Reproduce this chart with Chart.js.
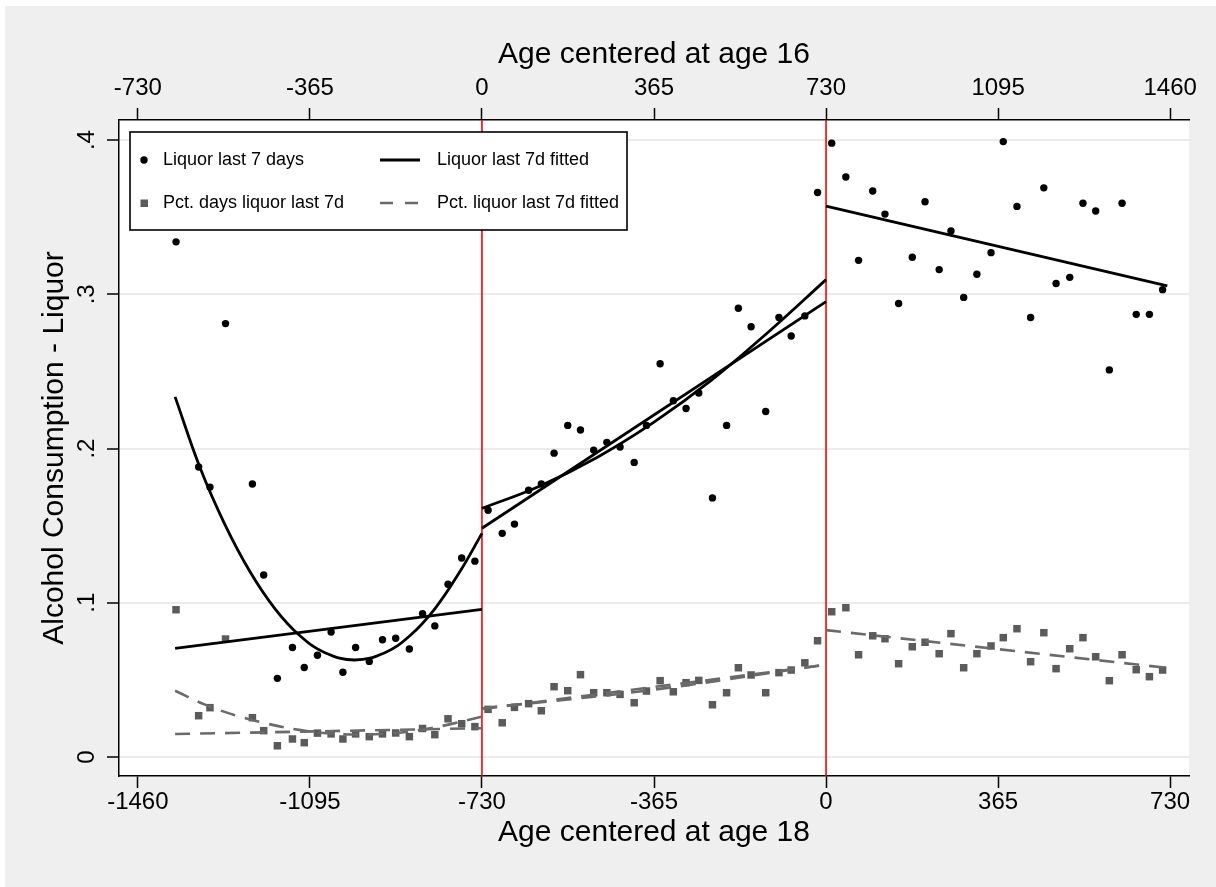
<!DOCTYPE html>
<html lang="en">
<head>
<meta charset="UTF-8">
<title>Alcohol Consumption - Liquor</title>
<script src="https://cdn.jsdelivr.net/npm/chart.js"></script>
<style>
  html, body { margin: 0; padding: 0; background: #fff; }
  #wrap { position: relative; width: 1216px; height: 887px; }
</style>
</head>
<body>
<div id="wrap"><canvas id="chart" width="1216" height="887"></canvas></div>
<script>
// age bins, days relative to 18th birthday
const ageDays = [
  -1379, -1331, -1307, -1274, -1217, -1193, -1164, -1132, -1107, -1079, -1050,
  -1025, -998, -969, -941, -913, -884, -856, -830, -802, -773, -745,
  -717, -687, -661, -631, -604, -577, -548, -521, -493, -465, -437, -407, -381,
  -352, -324, -297, -270, -241, -211, -186, -159, -128, -100, -74, -45, -18,
  12, 42, 69, 99, 125, 154, 183, 210, 240, 265, 292, 320, 350, 376, 405,
  434, 462, 488, 517, 545, 572, 601, 628, 658, 686, 714
];
// liquor last 7 days (black dots)
const liquor7d = [
  0.334, 0.188, 0.175, 0.281, 0.177, 0.118, 0.051, 0.071, 0.058, 0.066, 0.081,
  0.055, 0.071, 0.062, 0.076, 0.077, 0.070, 0.093, 0.085, 0.112, 0.129, 0.127,
  0.160, 0.145, 0.151, 0.173, 0.177, 0.197, 0.215, 0.212, 0.199, 0.204, 0.201, 0.191, 0.215,
  0.255, 0.231, 0.226, 0.236, 0.168, 0.215, 0.291, 0.279, 0.224, 0.285, 0.273, 0.286, 0.366,
  0.398, 0.376, 0.322, 0.367, 0.352, 0.294, 0.324, 0.360, 0.316, 0.341, 0.298, 0.313, 0.327,
  0.399, 0.357, 0.285, 0.369, 0.307, 0.311, 0.359, 0.354, 0.251, 0.359, 0.287, 0.287, 0.303
];
// pct. days liquor last 7d (grey squares)
const pctDays7d = [
  0.0955, 0.0268, 0.0320, 0.0765, 0.0255, 0.0171, 0.0073, 0.0117, 0.0093, 0.0155, 0.0150,
  0.0117, 0.0150, 0.0132, 0.0150, 0.0156, 0.0132, 0.0185, 0.0145, 0.0248, 0.0216, 0.0197,
  0.0309, 0.0222, 0.0322, 0.0346, 0.0300, 0.0456, 0.0430, 0.0534, 0.0417, 0.0417, 0.0406, 0.0352, 0.0428,
  0.0495, 0.0423, 0.0482, 0.0497, 0.0339, 0.0417, 0.0579, 0.0532, 0.0417, 0.0547, 0.0564, 0.0611, 0.0754,
  0.0942, 0.0968, 0.0663, 0.0786, 0.0767, 0.0605, 0.0715, 0.0744, 0.0670, 0.0800, 0.0579, 0.0670, 0.0720,
  0.0774, 0.0832, 0.0618, 0.0806, 0.0573, 0.0702, 0.0774, 0.0650, 0.0495, 0.0663, 0.0566, 0.0521, 0.0564
];

// fitted lines
const linLeftX = [-1381, -730],  linLeftY = [0.0705, 0.0957];
const quadLeftX = [-1381, -1328, -1275, -1222, -1169, -1116, -1063, -1000, -936, -883, -830, -777, -730];
const quadLeftY = [0.2335, 0.1875, 0.1505, 0.1201, 0.0961, 0.0786, 0.0676, 0.0629, 0.0676, 0.0786, 0.0961, 0.1201, 0.1450];
const linMidX = [-730, 0],       linMidY = [0.1483, 0.2952];
const quadMidX = [-730, -608, -486, -365, -243, -121, 0];
const quadMidY = [0.1612, 0.1756, 0.1942, 0.2171, 0.2443, 0.2759, 0.3095];
const linRightX = [0, 724],      linRightY = [0.3572, 0.3055];

const pctLinLeftX = [-1381, -730], pctLinLeftY = [0.0149, 0.0187];
const pctQuadLeftX = [-1381, -1316, -1250, -1184, -1118, -1053, -989, -923, -859, -794, -730];
const pctQuadLeftY = [0.0430, 0.0338, 0.0268, 0.0215, 0.0176, 0.0153, 0.0146, 0.0154, 0.0176, 0.0215, 0.0262];
const pctLinMidX = [-730, 0],      pctLinMidY = [0.0311, 0.0597];
const pctQuadMidX = [-730, -365, 0], pctQuadMidY = [0.0316, 0.0437, 0.0600];
const pctLinRightX = [0, 724],     pctLinRightY = [0.0823, 0.0578];

// cutoffs: age 16 and age 18
const cutoffs = [-730, 0];

const xTicks = [-1460, -1095, -730, -365, 0, 365, 730];
const topTicks = [-730, -365, 0, 365, 730, 1095, 1460];
const yTicks = [0, 0.1, 0.2, 0.3, 0.4];
const yTickLabels = ['0', '.1', '.2', '.3', '.4'];
const xMin = -1500, xMax = 770, yMin = -0.0123, yMax = 0.413;
const shift16 = 730;

const legendRows = [
  ['Liquor last 7 days', 'dot', 'Liquor last 7d fitted', 'solid'],
  ['Pct. days liquor last 7d', 'square', 'Pct. liquor last 7d fitted', 'dash']
];

const FONT = "'Liberation Sans', Arial, Helvetica, sans-serif";
const GREY_PT = '#5b5b5b', GREY_LN = '#6a6a6a';
const DASH = [15, 10];

const pts = (xs, ys) => xs.map((x, i) => ({ x, y: ys[i] }));

function fit(xs, ys, color, dashed, curved) {
  return {
    data: pts(xs, ys), showLine: true, pointRadius: 0,
    borderColor: color, borderWidth: dashed ? 2.6 : 2.8,
    borderDash: dashed ? DASH : [],
    tension: curved ? 0.4 : 0,
    order: 2
  };
}

const datasets = [
  ...cutoffs.map(c => ({
    data: [{ x: c, y: yMin }, { x: c, y: yMax }], showLine: true, pointRadius: 0,
    borderColor: '#ff0000', borderWidth: 1.6, order: 9
  })),
  fit(pctLinLeftX, pctLinLeftY, GREY_LN, true, false),
  fit(pctQuadLeftX, pctQuadLeftY, GREY_LN, true, true),
  fit(pctLinMidX, pctLinMidY, GREY_LN, true, false),
  fit(pctQuadMidX, pctQuadMidY, GREY_LN, true, true),
  fit(pctLinRightX, pctLinRightY, GREY_LN, true, false),
  {
    data: pts(ageDays, pctDays7d), pointStyle: 'rect', pointRadius: 5.3,
    pointBackgroundColor: GREY_PT, pointBorderWidth: 0, order: 3
  },
  {
    data: pts(ageDays, liquor7d), pointStyle: 'circle', pointRadius: 3.7,
    pointBackgroundColor: '#000', pointBorderWidth: 0, order: 1
  },
  fit(linLeftX, linLeftY, '#000', false, false),
  fit(quadLeftX, quadLeftY, '#000', false, true),
  fit(linMidX, linMidY, '#000', false, false),
  fit(quadMidX, quadMidY, '#000', false, true),
  fit(linRightX, linRightY, '#000', false, false)
];

const bgPlugin = {
  id: 'bg',
  beforeDraw(chart) {
    const { ctx, chartArea: a } = chart;
    ctx.save();
    ctx.fillStyle = '#ffffff';
    ctx.fillRect(0, 0, chart.width, chart.height);
    ctx.fillStyle = '#efefef';
    ctx.fillRect(5, 6, chart.width - 5, chart.height - 6);
    ctx.fillStyle = '#ffffff';
    ctx.fillRect(a.left, a.top, a.right - a.left, a.bottom - a.top);
    ctx.restore();
  }
};

const legendPlugin = {
  id: 'stataLegend',
  afterDraw(chart) {
    const ctx = chart.ctx;
    const a = chart.chartArea;
    const bx = a.left + 11, by = a.top + 12, bw = 497, bh = 98;
    ctx.save();
    ctx.fillStyle = '#fff';
    ctx.fillRect(bx, by, bw, bh);
    ctx.strokeStyle = '#000';
    ctx.lineWidth = 1.6;
    ctx.strokeRect(bx, by, bw, bh);
    ctx.font = '18px ' + FONT;
    ctx.textBaseline = 'middle';
    ctx.textAlign = 'left';
    const rowY = [by + 28, by + 71];
    legendRows.forEach((r, i) => {
      const y = rowY[i];
      // column 1 marker
      if (r[1] === 'dot') {
        ctx.fillStyle = '#000';
        ctx.beginPath(); ctx.arc(bx + 14, y, 3.7, 0, Math.PI * 2); ctx.fill();
      } else {
        ctx.fillStyle = GREY_PT;
        ctx.fillRect(bx + 10.5, y - 3.5, 7.5, 7.5);
      }
      ctx.fillStyle = '#000';
      ctx.fillText(r[0], bx + 33, y);
      // column 2 line sample
      ctx.beginPath();
      ctx.moveTo(bx + 250, y); ctx.lineTo(bx + 290, y);
      if (r[3] === 'dash') {
        ctx.strokeStyle = GREY_LN; ctx.lineWidth = 2.6; ctx.setLineDash([13, 12]);
      } else {
        ctx.strokeStyle = '#000'; ctx.lineWidth = 2.8; ctx.setLineDash([]);
      }
      ctx.stroke();
      ctx.setLineDash([]);
      ctx.fillStyle = '#000';
      ctx.fillText(r[2], bx + 307, y);
    });
    ctx.restore();
  }
};

const tickFont = { family: FONT, size: 24 };
const titleFont = { family: FONT, size: 30 };

new Chart(document.getElementById('chart'), {
  type: 'scatter',
  data: { datasets },
  plugins: [bgPlugin, legendPlugin],
  options: {
    responsive: false,
    animation: false,
    events: [],
    devicePixelRatio: 1,
    layout: { padding: { left: 0, right: 27, top: 0, bottom: 0 } },
    plugins: { legend: { display: false }, tooltip: { enabled: false } },
    scales: {
      x: {
        type: 'linear', position: 'bottom', min: xMin, max: xMax,
        afterBuildTicks: s => { s.ticks = xTicks.map(v => ({ value: v })); },
        afterFit: s => { s.height = 111; },
        ticks: { color: '#000', font: tickFont, padding: 0, maxRotation: 0, autoSkip: false, callback: v => String(v) },
        grid: { drawOnChartArea: false, drawTicks: true, tickLength: 12, tickColor: '#000', tickWidth: 1.5 },
        border: { display: true, color: '#000', width: 1.5 },
        title: { display: true, text: 'Age centered at age 18', color: '#000', font: titleFont, padding: { top: 0, bottom: 36 } }
      },
      x2: {
        type: 'linear', position: 'top', min: xMin + shift16, max: xMax + shift16,
        afterBuildTicks: s => { s.ticks = topTicks.map(v => ({ value: v })); },
        afterFit: s => { s.height = 120; },
        ticks: { color: '#000', font: tickFont, padding: 5, maxRotation: 0, autoSkip: false, callback: v => String(v) },
        grid: { drawOnChartArea: false, drawTicks: true, tickLength: 12, tickColor: '#000', tickWidth: 1.5 },
        border: { display: true, color: '#000', width: 1.5 },
        title: { display: true, text: 'Age centered at age 16', color: '#000', font: titleFont, padding: { top: 37, bottom: 0 } }
      },
      y: {
        type: 'linear', position: 'left', min: yMin, max: yMax,
        afterBuildTicks: s => { s.ticks = yTicks.map(v => ({ value: v })); },
        afterFit: s => { s.width = 119; },
        ticks: {
          color: '#000', font: tickFont, padding: 10, minRotation: 90, maxRotation: 90,
          crossAlign: 'center', autoSkip: false,
          callback: (v, i) => yTickLabels[i]
        },
        grid: { color: '#ebebeb', lineWidth: 2, drawTicks: true, tickLength: 12, tickColor: '#000', tickWidth: 1.5 },
        border: { display: true, color: '#000', width: 1.5 },
        title: { display: true, text: 'Alcohol Consumption - Liquor', color: '#000', font: titleFont, padding: { top: 37, bottom: 0 } }
      }
    }
  }
});
</script>
</body>
</html>
